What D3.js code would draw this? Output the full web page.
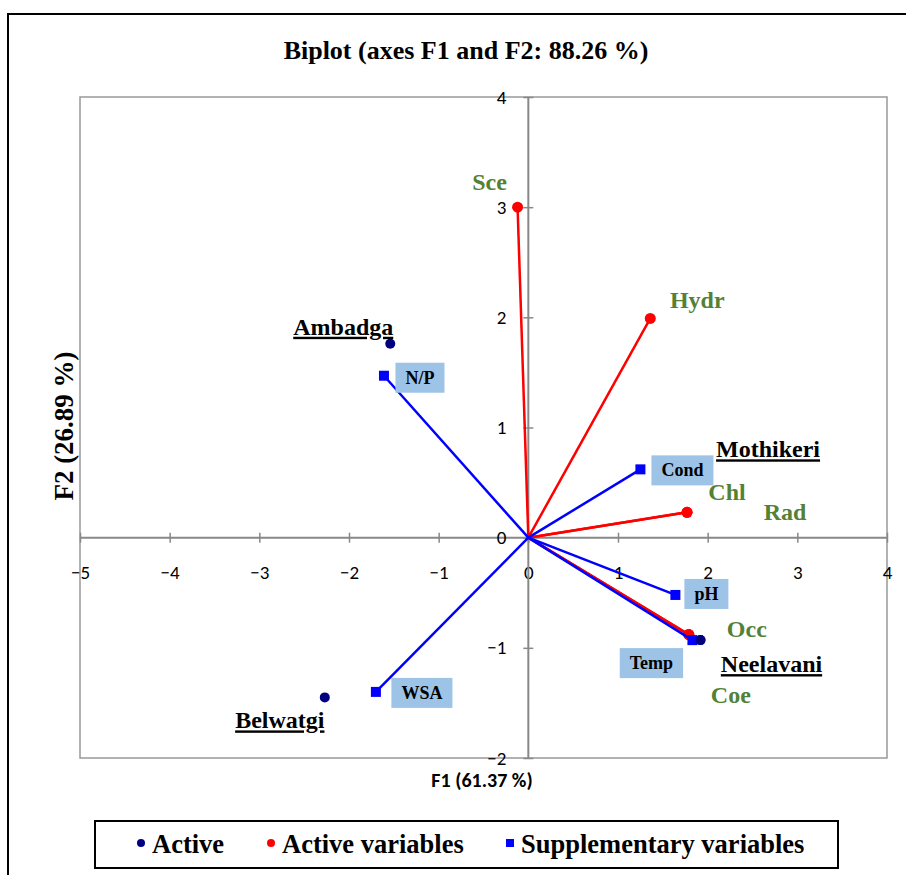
<!DOCTYPE html>
<html><head><meta charset="utf-8">
<script src="https://cdn.jsdelivr.net/npm/d3@7"></script>
<style>body{margin:0;background:#fff}svg{display:block}</style>
</head><body>
<svg id="c" width="906" height="875"></svg>
<script>
// ---- data ----
const xTicks = [-5,-4,-3,-2,-1,0,1,2,3,4];
const yTicks = [-2,-1,0,1,2,3,4];
const obsNames = ["Ambadga","Belwatgi","Mothikeri","Neelavani"];
const obsX = [-1.54,-2.27,1.77,1.92];
const obsY = [1.76,-1.45,0.23,-0.93];
const actNames = ["Sce","Hydr","Chl","Rad","Occ","Coe"];
const actX = [-0.12,1.36,1.77,1.77,1.79,1.79];
const actY = [3.00,1.99,0.23,0.23,-0.88,-0.88];
const supNames = ["N/P","Cond","pH","Temp","WSA"];
const supX = [-1.61,1.25,1.64,1.83,-1.70];
const supY = [1.47,0.62,-0.52,-0.93,-1.40];
// label offsets (pixels relative to point)
const obsLabOff = [[-47,-17],[-45,23],[81,-63],[71,24]];
const actLabOff = [[-28,-25],[47,-18],[40,-20],[98,0],[58,-6],[42,60]];
const supLabOff = [[36,2],[42,1],[31,-1],[-41,23],[46,1]];

const svg = d3.select("#c");
const L=80,R=887,T=97,B=758;
const x = d3.scaleLinear().domain([-5,4]).range([L,R]);
const y = d3.scaleLinear().domain([-2,4]).range([B,T]);
const serif = "'Liberation Serif','Times New Roman',serif";
const sans = "Carlito,Lato,'Open Sans',sans-serif";
const green = "#538135";

// outer frame
svg.append("rect").attr("x",8).attr("y",14).attr("width",920).attr("height",900)
  .attr("fill","none").attr("stroke","#000").attr("stroke-width",2);

// title
svg.append("text").attr("x",466).attr("y",59).attr("text-anchor","middle")
  .attr("font-family",serif).attr("font-weight","bold").attr("font-size",26)
  .text("Biplot (axes F1 and F2: 88.26 %)");

// plot border
svg.append("rect").attr("x",L).attr("y",T).attr("width",R-L).attr("height",B-T)
  .attr("fill","none").attr("stroke","#999").attr("stroke-width",1.5);

// axes through origin
const ax = svg.append("g").attr("transform",`translate(0,${y(0)})`)
  .call(d3.axisBottom(x).tickValues(xTicks).tickSize(5).tickSizeOuter(0).tickFormat(d3.format("d")));
ax.select(".domain").remove();
ax.selectAll(".tick line").attr("y1",-5).attr("y2",5).attr("stroke","#888").attr("stroke-width",1.5);
ax.selectAll(".tick text").attr("y",41).attr("dy",0).style("font-family",sans).style("font-size","19px").attr("fill","#000");
svg.append("line").attr("x1",L).attr("x2",R).attr("y1",y(0)).attr("y2",y(0)).attr("stroke","#888").attr("stroke-width",2);

const ay = svg.append("g").attr("transform",`translate(${x(0)},0)`)
  .call(d3.axisLeft(y).tickValues(yTicks).tickSize(5).tickSizeOuter(0).tickFormat(d3.format("d")));
ay.select(".domain").remove();
ay.selectAll(".tick line").attr("x1",-5).attr("x2",5).attr("stroke","#888").attr("stroke-width",1.5);
ay.selectAll(".tick text").attr("x",-22).style("font-family",sans).style("font-size","19px").attr("fill","#000");
svg.append("line").attr("x1",x(0)).attr("x2",x(0)).attr("y1",T).attr("y2",B).attr("stroke","#888").attr("stroke-width",2);

// axis titles
svg.append("text").attr("x",482).attr("y",787).attr("text-anchor","middle")
  .style("font-family",sans).attr("font-weight","bold").style("font-size","20px").text("F1 (61.37 %)");
svg.append("text").attr("transform","translate(73,426) rotate(-90)").attr("text-anchor","middle")
  .attr("font-family",serif).attr("font-weight","bold").attr("font-size",27).text("F2 (26.89 %)");

const obs = obsNames.map((n,i)=>({n,x:obsX[i],y:obsY[i],o:obsLabOff[i]}));
const act = actNames.map((n,i)=>({n,x:actX[i],y:actY[i],o:actLabOff[i]}));
const sup = supNames.map((n,i)=>({n,x:supX[i],y:supY[i],o:supLabOff[i]}));

svg.selectAll(".obs").data(obs).enter().append("circle")
  .attr("cx",d=>x(d.x)).attr("cy",d=>y(d.y)).attr("r",5).attr("fill","#000080");

// active variable vectors
svg.selectAll(".actl").data(act).enter().append("line")
  .attr("x1",x(0)).attr("y1",y(0)).attr("x2",d=>x(d.x)).attr("y2",d=>y(d.y))
  .attr("stroke","#ff0000").attr("stroke-width",2.5);
svg.selectAll(".actp").data(act).enter().append("circle")
  .attr("cx",d=>x(d.x)).attr("cy",d=>y(d.y)).attr("r",5.5).attr("fill","#ff0000");

// supplementary vectors
svg.selectAll(".supl").data(sup).enter().append("line")
  .attr("x1",x(0)).attr("y1",y(0)).attr("x2",d=>x(d.x)).attr("y2",d=>y(d.y))
  .attr("stroke","#0000ff").attr("stroke-width",2.5);
svg.selectAll(".supp").data(sup).enter().append("rect")
  .attr("x",d=>x(d.x)-5).attr("y",d=>y(d.y)-5).attr("width",10).attr("height",10).attr("fill","#0000ff");

// Neelavani dot on top (visible beside Temp)
svg.append("circle").attr("cx",x(obsX[3])).attr("cy",y(obsY[3])).attr("r",5).attr("fill","#000080");

// sup labels with boxes
sup.forEach(d=>{
  const cx = x(d.x)+d.o[0], cy = y(d.y)+d.o[1];
  const g = svg.append("g");
  const r = g.append("rect");
  const t = g.append("text").attr("x",cx).attr("y",cy+6).attr("text-anchor","middle")
    .attr("font-family",serif).attr("font-weight","bold").attr("font-size",18).text(d.n);
  const bb = t.node().getBBox();
  r.attr("x",cx-bb.width/2-10).attr("y",cy-15).attr("width",bb.width+20).attr("height",30).attr("fill","#9dc3e6");
});

// active variable labels
act.forEach(d=>{
  svg.append("text").attr("x",x(d.x)+d.o[0]).attr("y",y(d.y)+d.o[1]+8).attr("text-anchor","middle")
    .attr("font-family",serif).attr("font-weight","bold").attr("font-size",24).attr("fill",green).text(d.n);
});

// observation labels
obs.forEach(d=>{
  svg.append("text").attr("x",x(d.x)+d.o[0]).attr("y",y(d.y)+d.o[1]+8).attr("text-anchor","middle")
    .attr("font-family",serif).attr("font-weight","bold").attr("font-size",24).attr("fill","#000")
    .attr("text-decoration","underline").text(d.n);
});

// legend
svg.append("rect").attr("x",95).attr("y",821).attr("width",743).attr("height",47)
  .attr("fill","#fff").attr("stroke","#000").attr("stroke-width",2);
const lg = svg.append("g").attr("font-family",serif).attr("font-weight","bold").attr("font-size",26.5);
const legItems = [
  {label:"Active", type:"c", col:"#000080", x:141},
  {label:"Active variables", type:"c", col:"#ff0000", x:271},
  {label:"Supplementary variables", type:"s", col:"#0000ff", x:510}
];
legItems.forEach(it=>{
  if(it.type==="c") lg.append("circle").attr("cx",it.x).attr("cy",843).attr("r",4).attr("fill",it.col);
  else lg.append("rect").attr("x",it.x-4).attr("y",839).attr("width",8).attr("height",8).attr("fill",it.col);
  lg.append("text").attr("x",it.x+11).attr("y",853).text(it.label);
});
</script>
</body></html>
